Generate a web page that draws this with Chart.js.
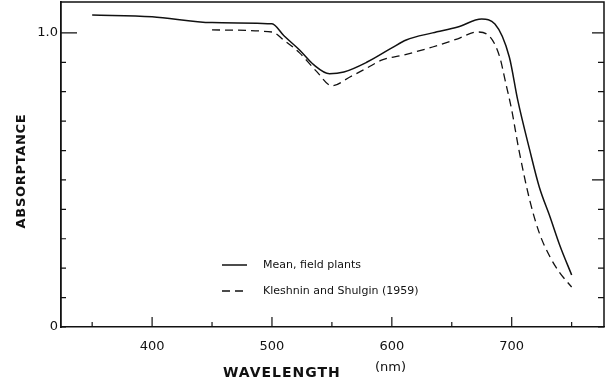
<!DOCTYPE html>
<html>
<head>
<meta charset="utf-8">
<script src="https://cdn.jsdelivr.net/npm/chart.js@4.4.0/dist/chart.umd.min.js"></script>
<style>
  html, body { margin: 0; padding: 0; background: #fff; }
  canvas { display: block; }
</style>
</head>
<body>
<canvas id="myChart" width="610" height="392"></canvas>
<script>
// Mean, field plants
const meanNm  = [350, 400, 450, 500, 510, 523, 535, 548, 560, 579, 600, 612, 634, 655, 675, 686, 698, 705, 715, 723, 732, 740, 750];
const meanAbs = [1.061, 1.055, 1.035, 1.031, 0.99, 0.942, 0.891, 0.861, 0.867, 0.90, 0.949, 0.976, 1.0, 1.02, 1.047, 1.03, 0.918, 0.772, 0.602, 0.476, 0.374, 0.279, 0.177];

// Kleshnin and Shulgin (1959)
const kleshNm  = [450, 500, 510, 523, 537, 550, 565, 579, 592, 610, 634, 655, 671, 682, 690, 695, 700, 706, 715, 723, 732, 740, 750];
const kleshAbs = [1.010, 1.003, 0.975, 0.932, 0.87, 0.820, 0.85, 0.88, 0.908, 0.925, 0.952, 0.98, 1.003, 0.986, 0.918, 0.83, 0.738, 0.602, 0.432, 0.32, 0.238, 0.185, 0.136];

const xTicks = [350, 400, 450, 500, 550, 600, 650, 700, 750];
const xLabels = [400, 500, 600, 700];
const yTicks = [0, 0.1, 0.2, 0.3, 0.4, 0.5, 0.6, 0.7, 0.8, 0.9, 1.0];
const yLabels = { 0: '0', 1: '1.0' };
const yMax = 1.105;

const seriesNames = ['Mean, field plants', 'Kleshnin and Shulgin (1959)'];

const ink = '#111';
const FONT = '"DejaVu Sans", sans-serif';

const toPoints = (xs, ys) => xs.map((v, i) => ({ x: v, y: ys[i] }));

// frame, inward ticks, titles and legend drawn over the chart
const framePlugin = {
  id: 'frame',
  afterDraw(chart) {
    const { ctx, chartArea: a, scales: { x, y } } = chart;
    ctx.save();
    ctx.strokeStyle = ink;
    ctx.lineWidth = 1.5;
    ctx.beginPath();
    ctx.moveTo(a.left, a.top);
    ctx.lineTo(a.right, a.top);
    ctx.lineTo(a.right, a.bottom);
    ctx.stroke();

    ctx.lineWidth = 1.2;
    xTicks.forEach(v => {
      const px = x.getPixelForValue(v);
      const len = v % 100 === 0 ? 10 : 5;
      ctx.beginPath();
      ctx.moveTo(px, a.bottom);
      ctx.lineTo(px, a.bottom - len);
      ctx.stroke();
    });
    yTicks.forEach(v => {
      const py = y.getPixelForValue(v);
      const lenL = Math.abs(v - 1) < 1e-6 ? 16 : 5;
      const lenR = (Math.abs(v - 1) < 1e-6 || Math.abs(v - 0.5) < 1e-6) ? 12 : 6;
      ctx.beginPath();
      ctx.moveTo(a.left, py);
      ctx.lineTo(a.left + lenL, py);
      ctx.moveTo(a.right, py);
      ctx.lineTo(a.right - lenR, py);
      ctx.stroke();
    });

    // axis titles
    ctx.fillStyle = ink;
    ctx.textBaseline = 'middle';
    ctx.textAlign = 'left';
    ctx.font = 'bold 14px ' + FONT;
    ctx.letterSpacing = '1px';
    ctx.fillText('WAVELENGTH', 223, 373);
    ctx.letterSpacing = '0px';
    ctx.font = '13px ' + FONT;
    ctx.fillText('(nm)', 375, 368);

    ctx.save();
    ctx.translate(22, 171);
    ctx.rotate(-Math.PI / 2);
    ctx.textAlign = 'center';
    ctx.font = 'bold 13px ' + FONT;
    ctx.letterSpacing = '0.7px';
    ctx.fillText('ABSORPTANCE', 0, 0);
    ctx.restore();
    ctx.letterSpacing = '0px';

    // legend
    ctx.font = '11px ' + FONT;
    chart.data.datasets.forEach((ds, i) => {
      const ly = 265 + i * 26;
      ctx.setLineDash(ds.borderDash || []);
      ctx.lineWidth = ds.borderWidth;
      ctx.beginPath();
      ctx.moveTo(222, ly);
      ctx.lineTo(247, ly);
      ctx.stroke();
      ctx.setLineDash([]);
      ctx.fillText(ds.label, 263, ly);
    });
    ctx.restore();
  }
};

const ctx = document.getElementById('myChart').getContext('2d');
const myChart = new Chart(ctx, {
  type: 'line',
  data: {
    datasets: [{
      label: seriesNames[0],
      data: toPoints(meanNm, meanAbs),
      borderColor: ink,
      borderWidth: 1.5,
      pointRadius: 0,
      cubicInterpolationMode: 'monotone',
      fill: false
    }, {
      label: seriesNames[1],
      data: toPoints(kleshNm, kleshAbs),
      borderColor: ink,
      borderWidth: 1.3,
      borderDash: [8, 5],
      pointRadius: 0,
      cubicInterpolationMode: 'monotone',
      fill: false
    }]
  },
  options: {
    responsive: false,
    animation: false,
    layout: { padding: { top: 2, right: 6, left: 0, bottom: 0 } },
    plugins: {
      legend: { display: false },
      tooltip: { enabled: false }
    },
    scales: {
      x: {
        type: 'linear',
        min: 324,
        max: 777,
        afterBuildTicks: scale => { scale.ticks = xTicks.map(v => ({ value: v })); },
        afterFit: scale => { scale.height = 65; scale.paddingLeft = 0; scale.paddingRight = 0; },
        grid: { display: false, drawTicks: false },
        border: { display: true, color: ink, width: 1.5 },
        ticks: {
          autoSkip: false,
          maxRotation: 0,
          padding: 12,
          color: ink,
          font: { family: FONT, size: 13 },
          callback: v => xLabels.includes(v) ? String(v) : ''
        }
      },
      y: {
        type: 'linear',
        min: 0,
        max: yMax,
        afterBuildTicks: scale => { scale.ticks = yTicks.map(v => ({ value: v })); },
        // no label padding reserved above/below the axis
        afterFit: scale => { scale.width = 61; scale.paddingTop = 0; scale.paddingBottom = 0; },
        grid: { display: false, drawTicks: false },
        border: { display: true, color: ink, width: 1.8 },
        ticks: {
          autoSkip: false,
          padding: 3,
          color: ink,
          font: { family: FONT, size: 13 },
          callback: v => yLabels[Math.round(v * 10) / 10] || ''
        }
      }
    }
  },
  plugins: [framePlugin]
});
</script>
</body>
</html>
